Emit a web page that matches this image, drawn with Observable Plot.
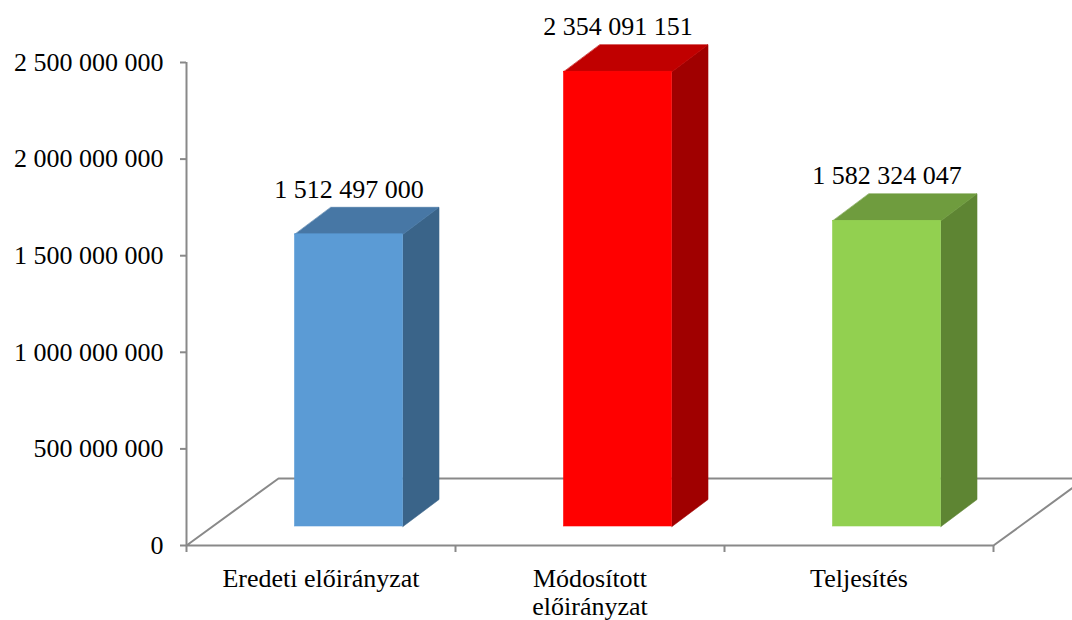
<!DOCTYPE html>
<html><head><meta charset="utf-8">
<script src="https://cdn.jsdelivr.net/npm/d3@7"></script>
<script src="https://cdn.jsdelivr.net/npm/@observablehq/plot@0.6"></script>
<style>html,body{margin:0;padding:0;background:#fff;overflow:hidden}</style>
</head><body><div id="chart"></div>
<script>
// ---- data ----
const categories = ["Eredeti előirányzat", "Módosított\nelőirányzat", "Teljesítés"];
const values = [1512497000, 2354091151, 1582324047];
const yTicks = [0, 500000000, 1000000000, 1500000000, 2000000000, 2500000000];
const frontColors = ["#5B9BD5", "#FF0000", "#92D050"];
const topColors = ["#4777A5", "#C00000", "#6F9C3E"];
const sideColors = ["#3A6489", "#A00000", "#5E8533"];

// ---- geometry (pixel sizes converted to data units) ----
const W = 1072, H = 620;
const mL = 186, mR = 79, mT = 62, mB = 75;
const yMax = 2500000000;
const ux = 3 / (W - mL - mR);           // category units per px
const uy = yMax / (H - mT - mB);        // value units per px
const floorDX = 92 * ux, floorDY = 67 * uy;
const frontDX = 28 * ux, frontDY = 19 * uy;
const halfW = 54 * ux;
const depthDX = 36 * ux, depthDY = 27 * uy;
const gray = "#898989";
const fmt = v => d3.format(",")(v).replace(/,/g, " ");

const bars = values.map((v, i) => ({
  i, v, cat: categories[i],
  x1: i + 0.5 + frontDX - halfW, x2: i + 0.5 + frontDX + halfW,
  y1: frontDY, y2: v + frontDY,
  front: frontColors[i], top: topColors[i], side: sideColors[i]
}));

const faces = [];
bars.forEach(b => {
  // side face
  [[b.x2, b.y1], [b.x2 + depthDX, b.y1 + depthDY], [b.x2 + depthDX, b.y2 + depthDY], [b.x2, b.y2]]
    .forEach(([x, y]) => faces.push({id: "s" + b.i, x, y, color: b.side}));
  // top face
  [[b.x1, b.y2], [b.x2, b.y2], [b.x2 + depthDX, b.y2 + depthDY], [b.x1 + depthDX, b.y2 + depthDY]]
    .forEach(([x, y]) => faces.push({id: "t" + b.i, x, y, color: b.top}));
});

const floor = [
  {x: 0, y: 0}, {x: floorDX, y: floorDY}, {x: 3 + floorDX, y: floorDY}, {x: 3, y: 0}
];

const chart = Plot.plot({
  width: W, height: H,
  marginLeft: mL, marginRight: mR, marginTop: mT, marginBottom: mB,
  x: {domain: [0, 3], axis: null},
  y: {domain: [0, yMax], axis: null},
  color: {type: "identity"},
  style: {fontFamily: "'Liberation Serif', 'Times New Roman', serif", fontSize: "26px", color: "#000", background: "#fff", overflow: "hidden"},
  marks: [
    Plot.line(floor, {x: "x", y: "y", curve: "linear-closed", stroke: gray, strokeWidth: 2}),
    Plot.ruleX([0], {y1: 0, y2: yMax, stroke: gray, strokeWidth: 2}),
    Plot.axisY({ticks: yTicks, tickFormat: fmt, tickSize: 6, tickPadding: 17, stroke: gray, strokeWidth: 2, strokeOpacity: 1, fill: "#000", fontSize: 26}),
    Plot.axisX({ticks: [0, 1, 2, 3], tickFormat: () => "", tickSize: 7, stroke: gray, strokeWidth: 2, strokeOpacity: 1}),
    Plot.text(bars, {x: d => d.i + 0.5, y: 0, text: "cat", dy: 21, lineAnchor: "top", lineHeight: 1.1, fontSize: 26, fill: "#000"}),
    Plot.line(faces, {x: "x", y: "y", z: "id", fill: "color", stroke: "color", strokeWidth: 0.6, curve: "linear-closed"}),
    Plot.rect(bars, {x1: "x1", x2: "x2", y1: "y1", y2: "y2", fill: "front", stroke: "front", strokeWidth: 0.6}),
    Plot.text(bars, {x: d => (d.x1 + d.x2) / 2, y: "y2", dy: -45, text: d => fmt(d.v), fontSize: 26, fill: "#000"})
  ]
});
document.getElementById("chart").appendChild(chart);
</script>
</body></html>
